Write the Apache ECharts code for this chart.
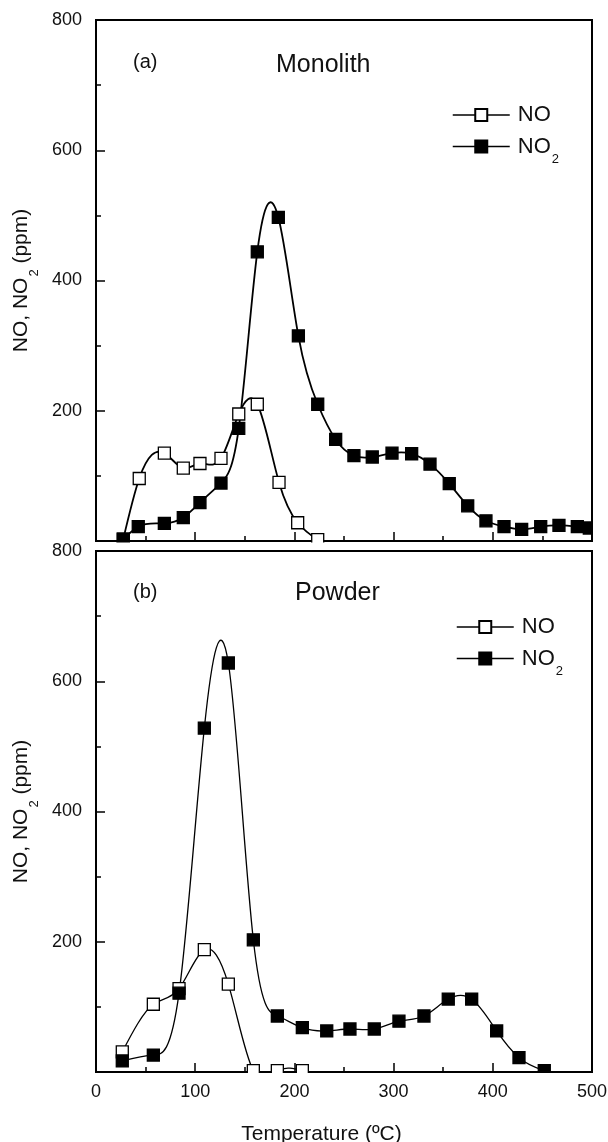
<!DOCTYPE html>
<html>
<head>
<meta charset="utf-8">
<script src="https://cdn.jsdelivr.net/npm/echarts@6/dist/echarts.min.js"></script>
<style>
  html, body { margin: 0; padding: 0; background: #fff; }
  #chart { width: 608px; height: 1142px; }
</style>
</head>
<body>
<div id="chart"></div>
<script>
// (a) Monolith: desorbed NO / NO2 (ppm) against temperature (°C)
const monoTempNO  = [27.5, 43.6, 68.9, 88.0, 104.8, 126.0, 143.9, 162.6, 184.5, 203.3, 223.5];
const monoNO      = [3, 96, 135, 112, 119, 127, 195, 210, 90, 28, 2];
const monoTempNO2 = [27.5, 42.6, 68.9, 88.0, 104.8, 126.0, 143.9, 162.6, 183.8, 204.0, 223.5, 241.6, 260.0,
                     278.5, 298.4, 318.2, 336.7, 356.1, 374.7, 393.1, 411.3, 429.1, 448.3, 466.7, 485.2, 497.3];
const monoNO2     = [3, 22, 27, 36, 59, 89, 173, 444, 497, 315, 210, 156, 131,
                     129, 135, 134, 118, 88, 54, 31, 22, 18, 22, 24, 22, 20];

// (b) Powder
const powderTempNO  = [26.5, 57.8, 83.7, 109.2, 133.4, 158.6, 182.8, 208.0];
const powderNO      = [31, 104, 128, 188, 135, 2, 2, 2];
const powderTempNO2 = [26.5, 57.8, 83.7, 109.2, 133.4, 158.6, 182.8, 208.0, 232.6, 256.0, 280.5, 305.4,
                       330.6, 355.1, 378.7, 403.9, 426.4, 451.9];
const powderNO2     = [17, 26, 121, 528, 628, 203, 86, 68, 63, 66, 66, 78,
                       86, 112, 112, 63, 22, 2];

// Axis ranges and labels
const xRange = [0, 500];
const xStep = 100;
const yRange = [0, 800];
const yStep = 200;
const panelLabels = ['(a)', '(b)'];
const panelTitles = ['Monolith', 'Powder'];
const xTitle = 'Temperature (\u00baC)';
const yTitle = 'NO, NO{s|2} (ppm)';

const FONT = '"Liberation Sans", Arial, Helvetica, sans-serif';
const INK = '#111';
const BLACK = '#000';

const pairs = (xs, ys) => xs.map((x, i) => [x, ys[i]]);

// Slopes of a natural cubic spline through (xs, ys), used to shape the connecting curves
function splineSlopes(xs, ys) {
  const n = xs.length;
  const h = [], d = [];
  for (let i = 0; i < n - 1; i++) { h[i] = xs[i + 1] - xs[i]; d[i] = (ys[i + 1] - ys[i]) / h[i]; }
  const M = new Array(n).fill(0);
  if (n > 2) {
    const a = [], b = [], c = [], r = [];
    for (let i = 1; i < n - 1; i++) {
      a.push(h[i - 1]); b.push(2 * (h[i - 1] + h[i])); c.push(h[i]); r.push(6 * (d[i] - d[i - 1]));
    }
    const m = b.length;
    for (let i = 1; i < m; i++) {
      const w = a[i] / b[i - 1];
      b[i] -= w * c[i - 1];
      r[i] -= w * r[i - 1];
    }
    const sol = new Array(m);
    sol[m - 1] = r[m - 1] / b[m - 1];
    for (let i = m - 2; i >= 0; i--) sol[i] = (r[i] - c[i] * sol[i + 1]) / b[i];
    for (let i = 0; i < m; i++) M[i + 1] = sol[i];
  }
  const k = [];
  for (let i = 0; i < n - 1; i++) k.push(d[i] - h[i] * (2 * M[i] + M[i + 1]) / 6);
  k.push(d[n - 2] + h[n - 2] * (M[n - 2] + 2 * M[n - 1]) / 6);
  return k;
}

const chart = echarts.init(document.getElementById('chart'), null, { renderer: 'canvas' });

const grids = [
  { left: 96, top: 20, width: 496, height: 521 },
  { left: 96, top: 551, width: 496, height: 521 }
].map(g => Object.assign(g, {
  show: true, borderColor: BLACK, borderWidth: 2, backgroundColor: 'transparent',
  containLabel: false, outerBoundsMode: 'none'
}));

const subRich = {
  s: { fontSize: 13, lineHeight: 13, padding: [26, 0, 0, 1], verticalAlign: 'middle', color: INK, fontFamily: FONT }
};

function makeX(gridIndex, withLabels) {
  return {
    type: 'value', gridIndex, min: xRange[0], max: xRange[1], interval: xStep,
    axisLine: { show: true, onZero: false, lineStyle: { color: BLACK, width: 2 } },
    axisTick: { show: true, inside: true, length: 9, lineStyle: { color: BLACK, width: 1.5 } },
    minorTick: { show: true, splitNumber: 2, length: 5, lineStyle: { color: BLACK, width: 1.5 } },
    splitLine: { show: false },
    axisLabel: { show: withLabels, color: INK, fontFamily: FONT, fontSize: 18, margin: 11 },
    name: withLabels ? xTitle : '',
    nameLocation: 'middle', nameGap: 52,
    nameTextStyle: { color: INK, fontFamily: FONT, fontSize: 21, padding: [0, 45, 0, 0] }
  };
}

function makeY(gridIndex) {
  return {
    type: 'value', gridIndex, min: yRange[0], max: yRange[1], interval: yStep,
    axisLine: { show: true, onZero: false, lineStyle: { color: BLACK, width: 2 } },
    axisTick: { show: true, inside: true, length: 9, lineStyle: { color: BLACK, width: 1.5 } },
    minorTick: { show: true, splitNumber: 2, length: 5, lineStyle: { color: BLACK, width: 1.5 } },
    splitLine: { show: false },
    axisLabel: { color: INK, fontFamily: FONT, fontSize: 18, margin: 14,
                 formatter: v => (v === 0 ? '' : String(v)) },
    name: yTitle, nameLocation: 'middle', nameRotate: 90, nameGap: 60,
    nameTextStyle: { color: INK, fontFamily: FONT, fontSize: 21, lineHeight: 21, rich: subRich }
  };
}

// Square markers for each measured point
function makeMarkers(name, gridIndex, data, filled) {
  return {
    type: 'line', name, xAxisIndex: gridIndex, yAxisIndex: gridIndex,
    data, symbol: 'rect', symbolSize: 12, showAllSymbol: true,
    lineStyle: { width: 0, opacity: 0 },
    itemStyle: { color: filled ? BLACK : '#fff', borderColor: BLACK, borderWidth: 1.3 },
    emphasis: { disabled: true }, z: filled ? 4 : 3
  };
}

// Spline curve joining the points, one Bezier segment per interval
function makeCurve(gridIndex, xs, ys, width) {
  const k = splineSlopes(xs, ys);
  return {
    type: 'custom', xAxisIndex: gridIndex, yAxisIndex: gridIndex, clip: true, silent: true, z: 2,
    data: pairs(xs, ys),
    renderItem(params, api) {
      const i = params.dataIndex;
      if (i >= xs.length - 1) return null;
      const hh = xs[i + 1] - xs[i];
      const p0 = api.coord([xs[i], ys[i]]);
      const c1 = api.coord([xs[i] + hh / 3, ys[i] + k[i] * hh / 3]);
      const c2 = api.coord([xs[i + 1] - hh / 3, ys[i + 1] - k[i + 1] * hh / 3]);
      const p1 = api.coord([xs[i + 1], ys[i + 1]]);
      return {
        type: 'bezierCurve',
        shape: { x1: p0[0], y1: p0[1], cpx1: c1[0], cpy1: c1[1], cpx2: c2[0], cpy2: c2[1], x2: p1[0], y2: p1[1] },
        style: { stroke: BLACK, lineWidth: width, fill: null }
      };
    }
  };
}

function makeLegend(left, top) {
  return {
    left, top, orient: 'vertical', data: ['NO', 'NO2'], selectedMode: false,
    itemWidth: 57, itemHeight: 15, itemGap: 1,
    lineStyle: { color: BLACK, width: 1.5, opacity: 1 },
    formatter: n => (n === 'NO2' ? 'NO{s|2}' : 'NO'),
    textStyle: { color: INK, fontFamily: FONT, fontSize: 22, lineHeight: 22, padding: [0, 0, 0, 3], rich: subRich }
  };
}

const graphics = [];
[[62, 65], [592, 593]].forEach(([yl, yt], i) => {
  graphics.push({ type: 'text', x: 133, y: yl, style: { text: panelLabels[i], font: '20px ' + FONT, fill: INK, verticalAlign: 'middle' } });
  graphics.push({ type: 'text', x: i === 0 ? 276 : 295, y: yt, style: { text: panelTitles[i], font: '25px ' + FONT, fill: INK, verticalAlign: 'middle' } });
});
// white margins that trim markers sitting on the panel edges
[[97, 542.5, 494, 7.5], [90, 1073, 510, 7], [593, 21, 15, 520], [593, 552, 15, 519]].forEach(([x, y, w, h]) => {
  graphics.push({ type: 'rect', z: 100, silent: true, shape: { x, y, width: w, height: h }, style: { fill: '#fff' } });
});

chart.setOption({
  animation: false,
  backgroundColor: '#fff',
  grid: grids,
  xAxis: [makeX(0, false), makeX(1, true)],
  yAxis: [makeY(0), makeY(1)],
  legend: [makeLegend(447, 99), makeLegend(451, 611)],
  series: [
    makeCurve(0, monoTempNO, monoNO, 1.8),
    makeCurve(0, monoTempNO2, monoNO2, 1.8),
    makeCurve(1, powderTempNO, powderNO, 1.3),
    makeCurve(1, powderTempNO2, powderNO2, 1.3),
    makeMarkers('NO', 0, pairs(monoTempNO, monoNO), false),
    makeMarkers('NO2', 0, pairs(monoTempNO2, monoNO2), true),
    makeMarkers('NO', 1, pairs(powderTempNO, powderNO), false),
    makeMarkers('NO2', 1, pairs(powderTempNO2, powderNO2), true)
  ],
  graphic: graphics
});
</script>
</body>
</html>
